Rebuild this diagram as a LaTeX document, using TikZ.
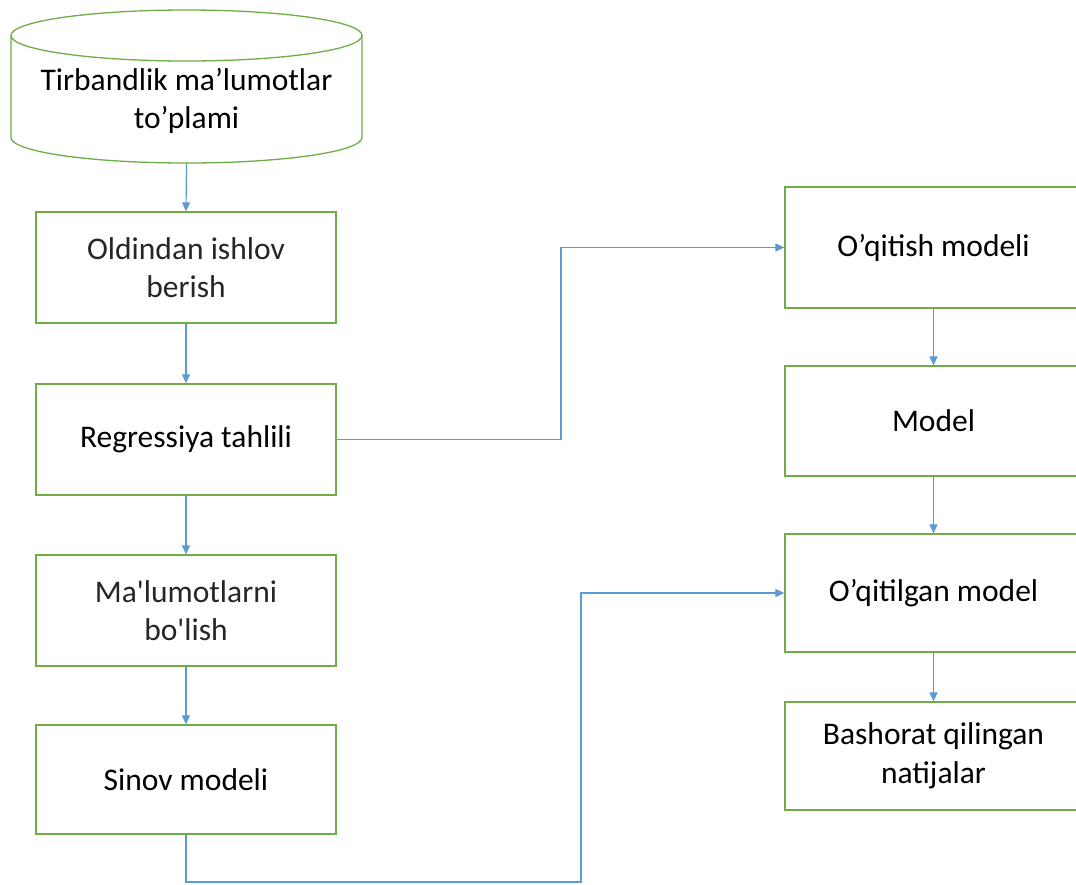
\documentclass[tikz,border=0pt]{standalone}
\usepackage{fontspec}
\setmainfont{Carlito}
\usetikzlibrary{arrows.meta}
\definecolor{boxgreen}{HTML}{70AD47}
\definecolor{linkblue}{HTML}{5B9BD5}
\definecolor{txtgray}{HTML}{262626}
\begin{document}
\begin{tikzpicture}[x=1pt,y=-1pt,
  stepbox/.style={draw=boxgreen,line width=1.3pt,minimum width=300pt,inner sep=0pt,align=center,
    font=\fontsize{31.5}{38.5}\selectfont},
  rightbox/.style={stepbox,minimum width=297pt},
  link/.style={draw=linkblue,line width=1.2pt,-{Triangle[length=9pt,width=8pt]}},
  plainlink/.style={draw=linkblue,line width=1.2pt}]
\clip (0,0) rectangle (1076,884);
\fill[white] (0,0) rectangle (1076,884);
% database cylinder
\node[minimum width=351pt,minimum height=153pt,inner sep=0pt,align=center,
  font=\fontsize{31.5}{38.5}\selectfont] (db) at (186.5,101) {Tirbandlik ma’lumotlar\\to’plami};
\draw[boxgreen,line width=1.3pt] (186.5,35.5) ellipse [x radius=175.5, y radius=25.5];
\draw[boxgreen,line width=1.3pt] (11,35.5) -- (11,137.5)
  arc[start angle=180,end angle=0,x radius=175.5,y radius=25.5] -- (362,35.5);
\coordinate (dbbottom) at (186.5,163);
% left column
\node[stepbox,minimum height=111pt,text=txtgray] (b1) at (186,267.5) {Oldindan ishlov\\berish};
\node[stepbox,minimum height=111pt] (b2) at (186,439.5) {Regressiya tahlili};
\node[stepbox,minimum height=111pt,text=txtgray] (b3) at (186,610.5) {Ma\textquotesingle lumotlarni\\bo\textquotesingle lish};
\node[stepbox,minimum height=109pt] (b4) at (186,779.5) {Sinov modeli};
% right column
\node[rightbox,minimum height=121pt] (r1) at (933.5,247.5) {O’qitish modeli};
\node[rightbox,minimum height=110pt] (r2) at (933.5,421) {Model};
\node[rightbox,minimum height=118pt] (r3) at (933.5,593) {O’qitilgan model};
\node[rightbox,minimum height=108pt] (r4) at (933.5,756) {Bashorat qilingan\\natijalar};
% connectors
\coordinate (k1) at (561,439.5);
\coordinate (k2) at (581,882);
\draw[link] (dbbottom) -- (b1.north);
\draw[link] (b1.south) -- (b2.north);
\draw[link] (b2.south) -- (b3.north);
\draw[link] (b3.south) -- (b4.north);
\draw[link] (b2.east) -- (k1) |- (r1.west);
\draw[link] (b4.south) |- (k2) |- (r3.west);
\draw[link] (r1.south) -- (r2.north);
\draw[link] (r2.south) -- (r3.north);
\draw[link] (r3.south) -- (r4.north);
\end{tikzpicture}
\end{document}
